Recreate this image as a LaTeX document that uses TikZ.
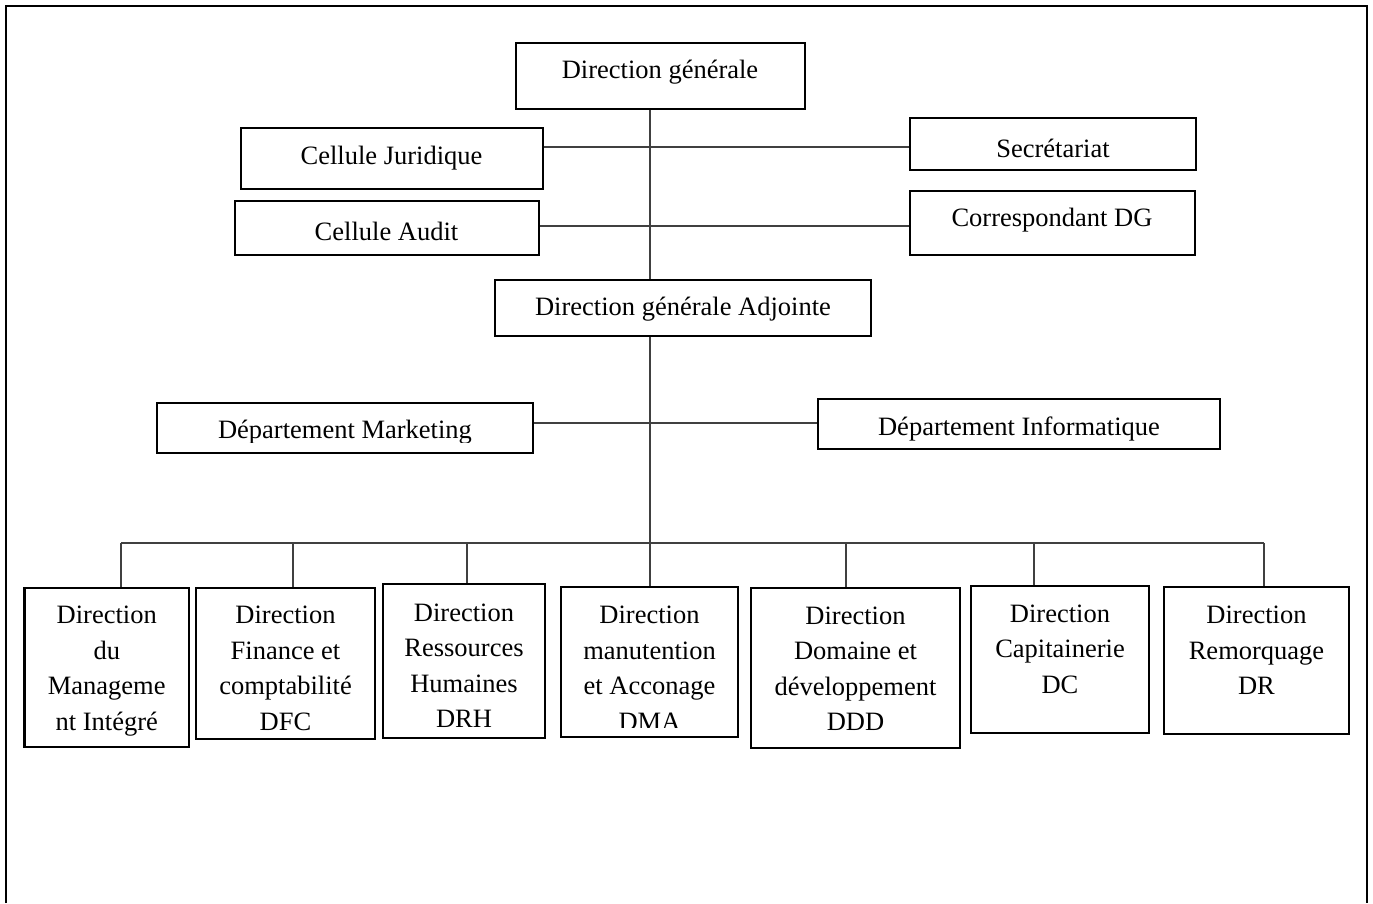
\documentclass[tikz,border=0pt]{standalone}
\usepackage{fontspec}
\setmainfont{Liberation Serif}
% box given by its corners: name, x1, y1, x2, y2
\newcommand\orgbox[5]{%
  \node[box, minimum width={(#4)-(#2)}, minimum height={(#5)-(#3)}]
    (#1) at ({((#2)+(#4))/2},{((#3)+(#5))/2}) {};}
\begin{document}
\begin{tikzpicture}[x=1pt,y=-1pt,
  box/.style={draw, line width=2.5pt, inner sep=0pt, fill=white},
  link/.style={draw=black!75, line width=1.1pt},
  lbl/.style={font=\fontsize{26.5}{35.5}\selectfont, align=center, inner sep=0pt},
  frameline/.style={line width=2.4pt}]
\useasboundingbox (0,0) rectangle (1373,903);

% page frame (open at the bottom)
\draw[frameline] (6,903) -- (6,6) -- (1367,6) -- (1367,903);

% boxes
\orgbox{dg}{516}{43}{805}{109}
\orgbox{cj}{241}{128}{543}{189}
\orgbox{sec}{910}{118}{1196}{170}
\orgbox{ca}{235}{201}{539}{255}
\orgbox{cdg}{910}{191}{1195}{255}
\orgbox{dga}{495}{280}{871}{336}
\orgbox{dm}{157}{403}{533}{453}
\orgbox{di}{818}{399}{1220}{449}
\orgbox{dmi}{24.5}{588}{189}{747}
\orgbox{dfc}{196}{588}{375}{739}
\orgbox{drh}{383}{584}{545}{738}
\orgbox{dma}{561}{587}{738}{737}
\orgbox{ddd}{751}{588}{960}{748}
\orgbox{dc}{971}{586}{1149}{733}
\orgbox{dr}{1164}{587}{1349}{734}

% labels
\node[lbl] (dg-t) at (660,72.5) {Direction générale};
\node[lbl] (cj-t) at (391.5,158) {Cellule Juridique};
\node[lbl] (sec-t) at (1053,148) {Secrétariat};
\node[lbl] (ca-t) at (386.5,231) {Cellule Audit};
\node[lbl] (cdg-t) at (1052,220.5) {Correspondant DG};
\node[lbl] (dga-t) at (683,309) {Direction générale Adjointe};
\begin{scope}
  \clip (157,403) rectangle (533,442);
  \node[lbl] (dm-t) at (345,432) {Département Marketing};
\end{scope}
\begin{scope}
  \clip (818,399) rectangle (1220,443);
  \node[lbl] (di-t) at (1019,429) {Département Informatique};
\end{scope}
\node[lbl] (dmi-t) at (106.75,671) {Direction\\du\\Manageme\\nt Intégré};
\node[lbl] (dfc-t) at (285.5,668.5) {Direction\\Finance et\\comptabilité\\DFC};
\node[lbl] (drh-t) at (464,665.5) {Direction\\Ressources\\Humaines\\DRH};
\begin{scope}
  \clip (561,587) rectangle (738,727);
  \node[lbl] (dma-t) at (649.5,668) {Direction\\manutention\\et Acconage\\DMA};
\end{scope}
\node[lbl] (ddd-t) at (855.5,668.5) {Direction\\Domaine et\\développement\\DDD};
\node[lbl] (dc-t) at (1060,649) {Direction\\Capitainerie\\DC};
\node[lbl] (dr-t) at (1256.5,650.5) {Direction\\Remorquage\\DR};

% connector rails
\coordinate (spine) at (650,0);
\coordinate (row1) at (0,147);
\coordinate (row2) at (0,226);
\coordinate (row3) at (0,423);
\coordinate (d1) at (121,543);
\coordinate (d2) at (293,543);
\coordinate (d3) at (467,543);
\coordinate (d5) at (846,543);
\coordinate (d6) at (1034,543);
\coordinate (d7) at (1264,543);

% connectors
\draw[link] (dg.south -| spine) -- (dga.north -| spine);
\draw[link] (dga.south -| spine) -- (dma.north -| spine);
\draw[link] (cj.east |- row1) -- (sec.west |- row1);
\draw[link] (ca.east |- row2) -- (cdg.west |- row2);
\draw[link] (dm.east |- row3) -- (di.west |- row3);
\draw[link] (d1) -- (d7);
\draw[link] (d1) -- (d1 |- dmi.north);
\draw[link] (d2) -- (d2 |- dfc.north);
\draw[link] (d3) -- (d3 |- drh.north);
\draw[link] (d5) -- (d5 |- ddd.north);
\draw[link] (d6) -- (d6 |- dc.north);
\draw[link] (d7) -- (d7 |- dr.north);
\end{tikzpicture}
\end{document}
